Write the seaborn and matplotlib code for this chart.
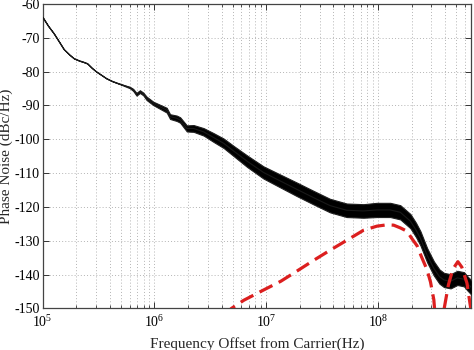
import numpy as np
import pandas as pd
import matplotlib
matplotlib.use("Agg")
import matplotlib.pyplot as plt
import seaborn as sns

# ---- data (log10 of frequency in Hz, dBc/Hz) ----
meas_logf = [5.00, 5.05, 5.10, 5.15, 5.19, 5.24, 5.28, 5.33, 5.36, 5.40, 5.44, 5.48,
             5.53, 5.57, 5.62, 5.66, 5.72, 5.78, 5.81, 5.84, 5.87, 5.90, 5.93, 5.99,
             6.05, 6.11, 6.14, 6.20, 6.23, 6.29, 6.35, 6.44, 6.53, 6.62, 6.71, 6.83,
             6.975, 7.124, 7.274, 7.42, 7.57, 7.72, 7.87, 7.99, 8.11, 8.20, 8.29,
             8.34, 8.38, 8.44, 8.50, 8.55, 8.59, 8.65, 8.71, 8.77, 8.80, 8.84]
meas_db = [-63.9, -66.5, -68.7, -71.3, -73.4, -75.0, -76.1, -76.8, -77.1, -77.6, -78.9, -80.0,
           -81.1, -82.0, -82.8, -83.3, -84.0, -84.7, -85.4, -86.7, -85.9, -86.6, -87.9, -89.4,
           -90.4, -91.4, -93.3, -93.8, -94.3, -96.8, -96.8, -97.8, -99.5, -101.2, -103.5, -106.5,
           -109.8, -112.3, -114.8, -117.2, -119.6, -121.0, -121.2, -120.9, -120.9, -121.6, -124.2,
           -126.8, -129.3, -134.3, -138.2, -140.6, -141.6, -142.0, -141.0, -141.4, -142.6, -144.0]
# half width of the noise band around the trace (dB)
meas_spread = [0.0, 0.0, 0.0, 0.0, 0.0, 0.0, 0.0, 0.0, 0.0, 0.0, 0.0, 0.0,
               0.0, 0.0, 0.0, 0.0, 0.1, 0.2, 0.3, 0.4, 0.4, 0.4, 0.5, 0.5,
               0.6, 0.7, 0.7, 0.8, 0.8, 0.9, 1.0, 1.1, 1.3, 1.4, 1.5, 1.7,
               1.8, 1.9, 2.0, 2.0, 2.0, 2.0, 2.0, 2.1, 2.1, 2.1, 2.1,
               2.1, 2.1, 2.1, 2.1, 2.1, 2.1, 2.1, 2.1, 2.1, 2.1, 2.1]

model_logf = [6.62, 6.69, 6.80, 6.975, 7.13, 7.274, 7.42, 7.572, 7.72, 7.871, 7.99,
              8.08, 8.14, 8.20, 8.26, 8.30, 8.35, 8.39, 8.438, 8.47, 8.50, 8.53, 8.56,
              8.59, 8.63, 8.67, 8.715, 8.75, 8.796, 8.83, 8.86]
model_db = [-152.0, -150.0, -147.6, -144.6, -142.0, -139.0, -135.9, -132.8, -129.9, -126.9, -125.7,
            -125.3, -125.4, -126.2, -127.2, -129.2, -131.5, -134.8, -138.5, -142.2, -147.5, -160.0, -175.0,
            -150.5, -143.1, -138.4, -136.2, -137.8, -142.5, -150.0, -160.0]

x_ticks = [1e5, 1e6, 1e7, 1e8]
y_ticks = [-150, -140, -130, -120, -110, -100, -90, -80, -70, -60]

# ---- styling ----
sns.set_theme(style="white")
plt.rcParams["font.family"] = ["Liberation Serif", "DejaVu Serif"]
plt.rcParams["mathtext.fontset"] = "custom"
plt.rcParams["mathtext.rm"] = "Liberation Serif"
plt.rcParams["mathtext.it"] = "Liberation Serif:italic"
plt.rcParams["axes.unicode_minus"] = False

spread = np.array(meas_spread)
meas = pd.DataFrame({"f": np.power(10.0, meas_logf), "db": meas_db,
                     "lo": np.array(meas_db) - spread,
                     "hi": np.array(meas_db) + spread})
model = pd.DataFrame({"f": np.power(10.0, model_logf), "db": model_db})

fig = plt.figure(figsize=(4.74, 3.5), dpi=100)
ax = fig.add_axes([0.090, 0.119, 0.9037, 0.8696])
ax.set_xscale("log")

ax.fill_between(meas["f"], meas["lo"], meas["hi"], color="black", edgecolor="#202020",
                linewidth=0.8, zorder=3)
sns.lineplot(data=meas, x="f", y="db", color="#1a1a1a", linewidth=0.8,
             estimator=None, sort=False, ax=ax, zorder=4)
sns.lineplot(data=model, x="f", y="db", color="#dc1f1f", linewidth=2.3,
             estimator=None, sort=False, ax=ax, zorder=5, dashes=False)
ax.lines[-1].set_linestyle((0, (4.5, 2.2)))

ax.set_xlim(1e5, 6.8e8)
ax.set_ylim(-150, -60)
ax.set_xticks(x_ticks)
ax.set_yticks(y_ticks)
ax.xaxis.set_minor_locator(matplotlib.ticker.LogLocator(base=10, subs=np.arange(2, 10)))
ax.xaxis.set_minor_formatter(matplotlib.ticker.NullFormatter())

ax.grid(True, which="major", axis="both", color="#b4b4b4", linestyle=(0, (1, 2.2)), linewidth=0.7)
ax.grid(True, which="minor", axis="x", color="#b4b4b4", linestyle=(0, (1, 2.2)), linewidth=0.7)
ax.set_axisbelow(True)

ax.tick_params(which="both", direction="in", top=True, right=True, bottom=True, left=True,
               labelsize=10, colors="#333333", labelcolor="black")
ax.tick_params(axis="y", pad=2)
ax.tick_params(axis="x", pad=4)
ax.tick_params(which="major", length=4, width=0.7)
ax.tick_params(which="minor", length=2, width=0.6)
for s in ax.spines.values():
    s.set_color("#444444")
    s.set_linewidth(0.9)

ax.set_xlabel("Frequency Offset from Carrier(Hz)", fontsize=11, labelpad=5)
ax.set_ylabel("Phase Noise (dBc/Hz)", fontsize=11, labelpad=1)

fig.savefig("out.png", dpi=100)
